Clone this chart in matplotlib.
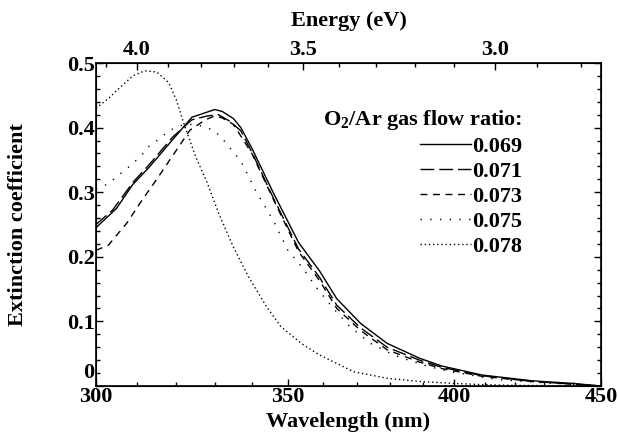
import numpy as np
import matplotlib
matplotlib.use('Agg')
import matplotlib.pyplot as plt
import matplotlib.transforms as mtransforms
from matplotlib.ticker import NullFormatter

plt.rcParams['font.family'] = 'Liberation Serif'
plt.rcParams['font.weight'] = 'bold'
plt.rcParams['axes.labelweight'] = 'bold'
plt.rcParams['mathtext.fontset'] = 'custom'
plt.rcParams['mathtext.rm'] = 'Liberation Serif:bold'
plt.rcParams['mathtext.default'] = 'rm'

# wavelength (nm) / extinction coefficient
wl_069 = [300, 305, 309, 313, 319, 324, 327, 330, 332, 335, 337, 340, 346, 353, 359, 364, 371, 379, 389, 396, 409, 426, 440, 450]
k_069 = [0.245, 0.275, 0.312, 0.338, 0.381, 0.416, 0.422, 0.428, 0.425, 0.414, 0.400, 0.368, 0.298, 0.222, 0.178, 0.135, 0.097, 0.066, 0.043, 0.031, 0.017, 0.008, 0.004, 0.0]

wl_071 = [300, 304, 309, 313, 319, 324, 328, 331, 334, 337, 340, 346, 353, 359, 364, 371, 379, 389, 396, 409, 426, 440, 450]
k_071 = [0.250, 0.272, 0.315, 0.342, 0.385, 0.412, 0.418, 0.420, 0.410, 0.395, 0.362, 0.290, 0.212, 0.168, 0.125, 0.090, 0.060, 0.040, 0.029, 0.016, 0.007, 0.003, 0.0]

wl_073 = [300, 303, 307.5, 311, 315, 320, 323.5, 327.5, 330, 332, 335, 340, 346, 353, 359, 364, 371, 379, 389, 396, 409, 426, 440, 450]
k_073 = [0.210, 0.218, 0.252, 0.285, 0.320, 0.365, 0.396, 0.412, 0.418, 0.415, 0.405, 0.360, 0.288, 0.208, 0.163, 0.120, 0.086, 0.056, 0.037, 0.027, 0.015, 0.007, 0.003, 0.0]

wl_075 = [300, 303, 305, 308, 311, 313, 316, 318, 321, 324, 327, 330, 332, 335, 337, 341, 346, 350, 354, 358, 363, 368, 374, 381, 385, 392, 399, 414, 430, 450]
k_075 = [0.305, 0.313, 0.324, 0.339, 0.356, 0.371, 0.384, 0.395, 0.403, 0.405, 0.402, 0.395, 0.383, 0.362, 0.348, 0.303, 0.255, 0.210, 0.184, 0.153, 0.120, 0.091, 0.066, 0.048, 0.041, 0.030, 0.022, 0.010, 0.005, 0.0]

wl_078 = [300, 303, 306, 309, 312, 315, 318, 320, 322, 325, 328, 331, 335, 339, 344, 348, 354, 359, 369, 379, 389, 400, 410, 420, 450]
k_078 = [0.430, 0.445, 0.463, 0.480, 0.488, 0.486, 0.470, 0.443, 0.405, 0.355, 0.315, 0.268, 0.215, 0.170, 0.123, 0.092, 0.065, 0.048, 0.022, 0.012, 0.007, 0.004, 0.002, 0.001, 0.0]

ratios = ['0.069', '0.071', '0.073', '0.075', '0.078']
wl_ticks = [300, 350, 400, 450]
ev_ticks = [4.0, 3.5, 3.0]
HC = 1239.84

fig = plt.figure(figsize=(6.18, 4.44), dpi=100)
ax = fig.add_axes([0.1553, 0.1306, 0.8172, 0.7275])

styles = [
    dict(linestyle='-'),
    dict(linestyle=(0, (10, 3.5))),
    dict(linestyle=(0, (5, 4))),
    dict(linestyle=(0, (1, 6))),
    dict(linestyle=(0, (1, 2))),
]
series = [(wl_069, k_069), (wl_071, k_071), (wl_073, k_073), (wl_075, k_075), (wl_078, k_078)]
for (x, y), lab, st in zip(series, ratios, styles):
    ax.plot(x, y, color='black', linewidth=1.0, label=lab, **st)

ax.set_xscale('log')
ax.set_xlim(300, 450)
ax.set_ylim(0, 0.5)
ax.set_xticks(wl_ticks)
ax.set_xticklabels([str(t) for t in wl_ticks])
ax.set_xticks(np.arange(310, 450, 10), minor=True)
ax.xaxis.set_minor_formatter(NullFormatter())
ax.set_yticks([0, 0.1, 0.2, 0.3, 0.4, 0.5])
ax.set_yticklabels(['0', '0.1', '0.2', '0.3', '0.4', '0.5'])
ax.set_yticks(np.arange(0, 0.5, 0.02), minor=True)
ax.tick_params(which='both', direction='in', right=True, labelsize=16, width=1)
ax.tick_params(which='major', length=5)
ax.tick_params(which='minor', length=3)
ax.tick_params(axis='y', pad=1)
ax.tick_params(axis='x', pad=1)
for s in ax.spines.values():
    s.set_linewidth(1.2)

# the "0" sits on the axis line, above the "300"
fig.canvas.draw()
zero = ax.get_yticklabels()[0]
zero.set_verticalalignment('bottom')
zero.set_transform(zero.get_transform() + mtransforms.ScaledTranslation(0, 2 / 72, fig.dpi_scale_trans))

ax.set_xlabel('Wavelength (nm)', fontsize=16, labelpad=3)
ax.set_ylabel('Extinction coefficient', fontsize=16, labelpad=28)

# top energy axis
ax2 = ax.twiny()
ax2.set_xscale('log')
ax2.set_xlim(300, 450)
ax2.set_xticks([HC / e for e in ev_ticks])
ax2.set_xticklabels(['%.1f' % e for e in ev_ticks])
ev_minor = np.arange(2.8, 4.15, 0.1)
ax2.set_xticks([HC / e for e in ev_minor], minor=True)
ax2.xaxis.set_minor_formatter(NullFormatter())
ax2.tick_params(which='both', direction='in', labelsize=16, width=1, pad=2)
ax2.tick_params(which='major', length=5)
ax2.tick_params(which='minor', length=3)
ax2.set_xlabel('Energy (eV)', fontsize=16, labelpad=10)

leg = ax.legend(title='O$_2$/Ar gas flow ratio:', loc='upper right',
                bbox_to_anchor=(0.845, 0.86), frameon=False, fontsize=16,
                title_fontsize=16, alignment='right', handlelength=2.3,
                handletextpad=0.05, labelspacing=0.2, borderpad=0, borderaxespad=0)
leg.get_title().set_fontweight('bold')

fig.savefig('out.png', dpi=100)
